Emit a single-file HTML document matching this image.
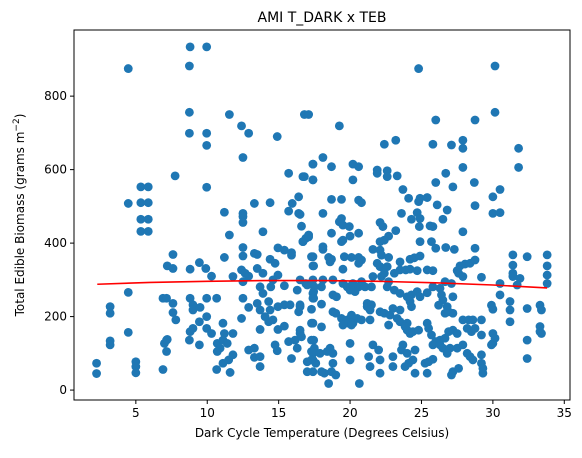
<!DOCTYPE html>
<html><head><meta charset="utf-8"><style>
body{margin:0;background:#fff;}
svg text{font-family:"DejaVu Sans","Liberation Sans",sans-serif;fill:#000;}
</style></head><body>
<svg id="chart" width="582" height="453"></svg>
<script>
const xs = [2.25,2.25,3.2,3.2,3.2,3.2,4.47,4.47,4.47,4.47,5.0,5.0,5.0,5.35,5.87,5.35,5.87,5.35,5.87,5.35,5.87,6.9,7.15,7.6,7.6,7.8,7.0,7.15,7.2,7.15,6.9,7.2,7.6,7.6,7.75,8.8,9.96,8.75,8.75,8.75,9.96,9.96,9.96,8.8,9.45,9.9,10.3,8.8,9,9,9.5,9.96,9.96,10.66,9.45,8.8,9,8.75,9.96,10.3,9.45,10.7,10.9,10.7,11.1,11.2,11.8,11.1,11.4,10.66,11.1,11.5,11.8,11.6,11.2,11.55,11.2,11.55,12.4,12.9,12.5,12.5,12.5,12.5,12.5,12.5,13.3,11.8,12.4,12.65,12.9,12.5,12.5,12.9,12.4,12.9,13.3,13.3,13.7,13.7,13.3,13.5,13.9,13.5,13.9,13.7,13.9,13.5,13.7,14.3,13.7,14.05,14.3,14.6,14.4,14.4,14.4,14.75,14.6,14.95,14.45,14.95,15.4,15.9,15.9,14.9,14.75,14.9,14.95,15.4,14.95,15.4,15.4,15.7,15.7,15.95,16.4,16.4,16.6,16.9,16.7,17.1,16.8,17.4,16.8,17.4,16.3,16.9,17.3,15.8,16.5,16.4,15.7,16.15,15.9,16.3,16.5,17.4,17.45,17.45,17.45,17.4,17.45,17.4,17.4,17.6,17.3,
24.8,30.15,30.15,17.1,19.25,26.0,28.75,23.2,22.4,25.8,27.1,27.9,27.9,31.8,31.8,18.1,17.4,18.7,20.2,20.6,16.7,17.4,20.2,21.9,21.9,22.6,22.6,23.3,26.7,27.9,26,27.2,28.7,30.5,23.7,24.1,24.8,24.9,25.4,26.1,18.7,19.4,20.6,20.8,30,28.75,18.1,16.5,23.6,24.7,26.8,24.3,24.9,26.5,30,30.5,19.25,19.5,19.95,19.4,22.1,22.3,25.6,25.8,24.85,18.7,20.6,23.2,22.7,22.4,22.1,19.4,20,19.5,24.9,25.7,26,26.7,27.3,28.75,27.9,16.7,17.1,18.1,18.1,21.6,
17.3,17.4,18.5,18.7,18.6,19.6,20.1,20.6,20.8,19.5,20.6,22.1,22.2,22.7,21.9,22.1,22.6,23.5,24.2,24.5,24.9,23.5,23.9,24.2,23.1,24.7,25.4,25.8,27.7,28.05,28.4,28.75,27.5,27.6,29.2,27.9,31.4,32.4,33.8,31.4,31.4,31.4,31.9,33.8,33.8,33.8,30.5,31.7,27.1,26.65,
16.5,17.4,18.1,18.8,17,17.5,18,19.5,19.8,20.2,20.6,21.05,21.5,20.8,21.6,22.2,22.4,22.7,20.35,20,17.4,17.4,18.8,19.05,22.6,
23.1,23.5,24,24.3,24.7,24.9,25.4,25.8,26.3,26.4,26.5,26.2,26.8,26.9,27.2,26.65,27.2,29.9,30,30.5,31.2,31.2,31.2,32.4,33.3,33.4,33.3,33.3,33.4,
16.5,18,17.3,21.2,21.2,21.5,21.4,22.1,22.4,22.8,23,23.5,24.2,24.3,23.3,18.8,19,19.4,19.8,20.1,20.5,20.8,21.4,19.5,19.9,20.2,
17.3,16.5,16.6,18,20.1,20.1,22.7,23.5,24,23.85,24,24.2,24.4,24.8,25.4,25.5,25.7,26,26.3,26.65,26.9,27.2,27.5,27.9,28.3,28.6,29.2,28.2,28.5,28.75,29.2,30,30.15,30,29.9,
17.3,17.5,17.4,17.3,17,17,17.9,18.4,18.6,18.8,18.8,18.2,18,18.7,19,18.5,20,20,21.3,21.4,21.6,22,22.1,22.1,23,23,23.6,23.7,24,24.1,24.4,24.55,24.55,23.85,25.25,25.4,25.5,25.8,25.8,26.3,26.5,26.8,27,27.5,27.9,28.2,28.4,28.6,29.2,29.2,29.3,29.3,27.2,27.1,27.6,20.65,32.4,32.4];
const ys = [73,45,227,209,134,123,875,508,266,157,77,64,47,553,553,510,510,465,465,432,432,250,250,236,211,191,127,136,138,105,56,338,331,369,583,934,934,882,756,699,699,666,552,329,347,331,310,250,232,218,225,250,200,250,186,159,168,136,168,154,123,127,114,105,182,154,154,136,127,56,73,82,96,48,484,422,361,750,719,699,633,481,472,456,388,365,508,309,327,318,310,295,250,225,195,109,114,89,91,64,372,369,431,331,318,281,263,236,218,241,165,200,186,191,218,510,356,345,300,313,281,387,381,367,374,690,123,107,227,232,165,174,284,590,487,508,526,481,446,413,404,422,750,615,581,572,272,290,290,232,232,213,132,136,86,114,154,363,338,268,250,182,136,82,50,73,105,
875,882,756,750,719,735,735,680,669,669,667,680,658,658,606,633,615,608,615,608,581,572,572,599,590,597,581,583,590,606,565,553,565,546,546,522,513,522,524,504,519,519,517,510,526,502,481,478,481,483,490,465,467,465,481,483,458,449,445,467,456,445,447,445,445,427,427,434,419,408,404,404,419,408,404,404,386,388,383,386,431,404,417,383,390,383,
363,338,361,356,349,363,361,361,354,329,345,381,367,361,345,336,336,349,356,360,365,327,327,329,318,325,327,325,338,343,345,354,325,318,307,309,368,363,368,340,318,309,304,338,313,290,290,286,290,295,
300,300,300,300,286,281,281,290,281,290,281,281,281,295,309,309,318,295,268,272,263,250,259,254,281,
272,263,254,259,268,254,265,281,277,259,245,231,227,213,209,209,254,231,220,259,241,218,186,222,231,218,173,159,154,
227,234,220,227,236,232,218,213,209,204,222,218,241,227,195,213,209,195,191,204,195,191,191,177,182,182,
182,163,145,172,182,177,177,186,182,173,163,154,159,163,182,168,150,132,136,141,159,163,154,191,191,191,191,168,159,168,150,154,141,127,123,
136,114,100,82,77,50,100,105,114,100,73,46,50,50,41,18,127,82,91,64,123,109,82,46,91,64,109,123,100,73,82,109,46,64,73,46,77,84,123,123,114,100,114,114,123,100,91,82,96,73,59,46,50,41,59,18,136,86];
const fitX = [2.3,6,10,14,18,22,26,30,33.8];
const fitY = [288,293,296,298,298,296,292,286,278];
const xTicks = [5,10,15,20,25,30,35];
const yTicks = [0,200,400,600,800];

const L=74,R=570,T=30,B=400;
const xMin=0.67,xMax=35.4,yMin=-27,yMax=980;
const sx=v=>L+(v-xMin)/(xMax-xMin)*(R-L);
const sy=v=>B-(v-yMin)/(yMax-yMin)*(B-T);
const svg=document.getElementById('chart');
const NS='http://www.w3.org/2000/svg';
function mk(tag,attrs,parent){const e=document.createElementNS(NS,tag);for(const k in attrs)e.setAttribute(k,attrs[k]);(parent||svg).appendChild(e);return e;}

const pts=mk('g',{});


for(let i=0;i<xs.length&&i<ys.length;i++){
  const c=mk('circle',{cx:sx(xs[i]),cy:sy(ys[i]),r:4.4,fill:'#1f77b4'},pts);
  
  
}
const fit=mk('polyline',{points:fitX.map((x,i)=>sx(x)+','+sy(fitY[i])).join(' '),fill:'none',stroke:'#ff0000','stroke-width':1.6});



const frame=mk('rect',{x:L,y:T,width:R-L,height:B-T,fill:'none',stroke:'#000','stroke-width':1});



xTicks.forEach(t=>{
  const x=sx(t);
  mk('line',{x1:x,x2:x,y1:B,y2:B+4,stroke:'#000'});
  const tx=mk('text',{x:x,y:B+17,'text-anchor':'middle','font-size':12});
  tx.textContent=t;
  
  
});
yTicks.forEach(t=>{
  const y=sy(t);
  mk('line',{x1:L-4,x2:L,y1:y,y2:y,stroke:'#000'});
  const tx=mk('text',{x:L-7,y:y+4,'text-anchor':'end','font-size':12});
  tx.textContent=t;
  
  
});
</script>
<script>
(function(){
const svg=document.getElementById('chart');
const NS='http://www.w3.org/2000/svg';
const t=document.createElementNS(NS,'text');
t.setAttribute('x',322);t.setAttribute('y',22);t.setAttribute('text-anchor','middle');t.setAttribute('font-size',14);
t.textContent='AMI T_DARK x TEB';


svg.appendChild(t);
const xl=document.createElementNS(NS,'text');
xl.setAttribute('x',322);xl.setAttribute('y',437);xl.setAttribute('text-anchor','middle');xl.setAttribute('font-size',12);
xl.textContent='Dark Cycle Temperature (Degrees Celsius)';


svg.appendChild(xl);
const yl=document.createElementNS(NS,'text');
yl.setAttribute('transform','translate(24,215) rotate(-90)');yl.setAttribute('text-anchor','middle');yl.setAttribute('font-size',12);
yl.innerHTML='Total Edible Biomass (grams m<tspan dy="-5" font-size="9">−2</tspan><tspan dy="5">)</tspan>';


svg.appendChild(yl);
})();
</script>
</body></html>
